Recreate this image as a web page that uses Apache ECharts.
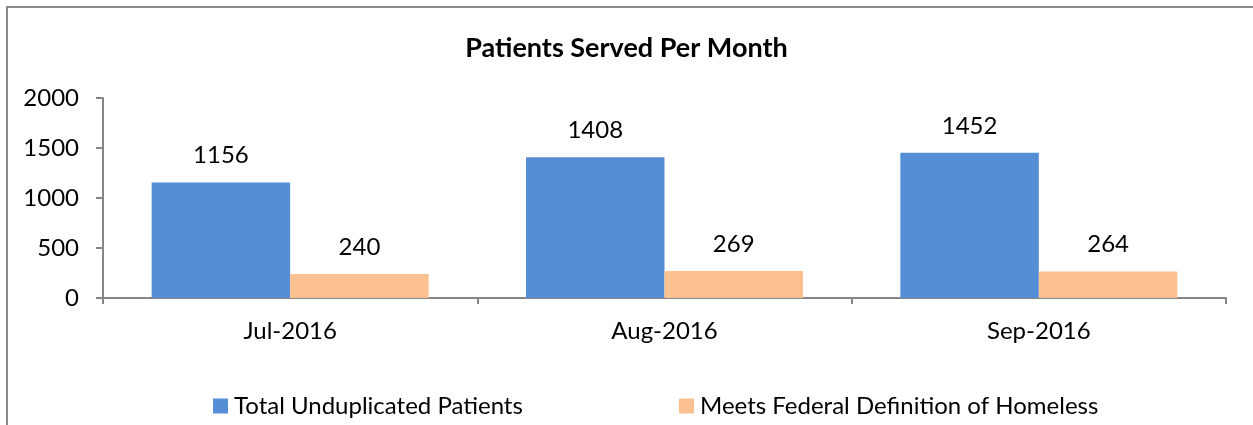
<!DOCTYPE html>
<html>
<head>
<meta charset="utf-8">
<script src="https://cdn.jsdelivr.net/npm/echarts@6/dist/echarts.min.js"></script>
<style>
html,body{margin:0;padding:0;background:#fff;}
#chart{width:1253px;height:425px;}
</style>
</head>
<body>
<div id="chart"></div>
<script>
const categories = ['Jul-2016', 'Aug-2016', 'Sep-2016'];
const totalPatients = [1156, 1408, 1452];
const homeless = [240, 269, 264];
const seriesNames = ['Total Unduplicated Patients', 'Meets Federal Definition of Homeless'];
const titleText = 'Patients Served Per Month';

const FONT = 'Lato, "Open Sans", sans-serif';
const FS = 24;
const chart = echarts.init(document.getElementById('chart'), null, {renderer: 'canvas'});
const labelStyle = {show: true, position: 'top', distance: 15, color: '#000', fontSize: FS, fontFamily: FONT};
const legendBase = {
  top: 389, itemWidth: 15, itemHeight: 15, icon: 'rect',
  textStyle: {fontFamily: FONT, fontSize: FS, color: '#000', padding: [0, 0, 0, 1]}
};
chart.setOption({
  animation: false,
  backgroundColor: '#fff',
  title: {
    text: titleText, left: 'center', top: 30,
    textStyle: {fontFamily: FONT, fontWeight: 'bold', fontSize: 27, color: '#000'}
  },
  legend: [
    Object.assign({}, legendBase, {left: 208, data: [seriesNames[0]]}),
    Object.assign({}, legendBase, {left: 674, data: [seriesNames[1]]})
  ],
  grid: {left: 103, right: 27, top: 98, bottom: 127, containLabel: false},
  xAxis: {
    type: 'category', data: categories,
    axisLine: {lineStyle: {color: '#868686', width: 2}},
    axisTick: {show: true, length: 6, lineStyle: {color: '#868686', width: 2}},
    axisLabel: {fontFamily: FONT, fontSize: FS, color: '#000', margin: 21}
  },
  yAxis: {
    type: 'value', min: 0, max: 2000, interval: 500,
    axisLine: {show: true, lineStyle: {color: '#868686', width: 2}},
    axisTick: {show: true, length: 7, lineStyle: {color: '#868686', width: 2}},
    axisLabel: {fontFamily: FONT, fontSize: FS, color: '#000', margin: 24, formatter: v => String(v)},
    splitLine: {show: false}
  },
  graphic: [{
    type: 'rect', shape: {x: 7, y: 7, width: 1260, height: 430},
    style: {fill: 'none', stroke: '#8a8a8a', lineWidth: 2}, silent: true, z: 100
  }],
  series: [
    {name: seriesNames[0], type: 'bar', data: totalPatients, barWidth: '37%', barGap: '0%',
     itemStyle: {color: '#558ED5'}, label: labelStyle},
    {name: seriesNames[1], type: 'bar', data: homeless, barWidth: '37%', barGap: '0%',
     itemStyle: {color: '#FAC090'}, label: labelStyle}
  ]
});
</script>
</body>
</html>
